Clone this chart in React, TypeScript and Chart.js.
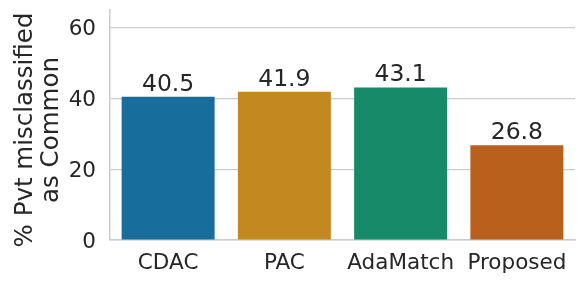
import React, { useEffect, useRef } from "react";
import { Chart, registerables } from "chart.js";

Chart.register(...registerables);

const categories = ["CDAC", "PAC", "AdaMatch", "Proposed"];
const values = [40.5, 41.9, 43.1, 26.8];
const valueLabels = ["40.5", "41.9", "43.1", "26.8"];
const barColors = ["#176e9d", "#c3881f", "#168a69", "#b9601d"];
const yTitleLines = ["% Pvt misclassified", "as Common"];
const yTicks = [0, 20, 40, 60];

const FONT = "'DejaVu Sans', sans-serif";
const TEXT = "#262626";

export default function App() {
  const ref = useRef<HTMLCanvasElement | null>(null);
  useEffect(() => {
    document.body.style.margin = "0";
    const canvas = ref.current!;
    const labelPlugin = {
      id: "labels",
      afterDatasetsDraw(chart: any) {
        const ctx = chart.ctx;
        const meta = chart.getDatasetMeta(0);
        ctx.save();
        ctx.fillStyle = TEXT;
        ctx.font = `23.5px ${FONT}`;
        ctx.textAlign = "center";
        ctx.textBaseline = "alphabetic";
        meta.data.forEach((bar: any, i: number) => {
          ctx.fillText(valueLabels[i], bar.x, bar.y - 6);
        });
        ctx.restore();
      },
      afterDraw(chart: any) {
        const ctx = chart.ctx;
        const a = chart.chartArea;
        ctx.save();
        ctx.fillStyle = TEXT;
        ctx.font = `24.5px ${FONT}`;
        ctx.textAlign = "center";
        ctx.textBaseline = "alphabetic";
        const cy = (a.top + a.bottom) / 2 + 5;
        ctx.translate(0, cy);
        ctx.rotate(-Math.PI / 2);
        ctx.fillText(yTitleLines[0], 0, 32);
        ctx.fillText(yTitleLines[1], 0, 58);
        ctx.restore();
      },
    };
    const chart = new Chart(canvas, {
      type: "bar",
      data: {
        labels: categories,
        datasets: [
          {
            data: values,
            backgroundColor: barColors,
            borderColor: barColors,
            borderWidth: 0,
            categoryPercentage: 0.8,
            barPercentage: 1,
          },
        ],
      },
      options: {
        animation: false,
        responsive: false,
        maintainAspectRatio: false,
        layout: { padding: { top: 10, right: 9, left: 0, bottom: 0 } },
        plugins: { legend: { display: false }, tooltip: { enabled: false } },
        scales: {
          x: {
            grid: { display: false, drawTicks: false },
            border: { display: true, color: "#cccccc", width: 1.5 },
            ticks: { color: TEXT, font: { family: FONT, size: 21.5 }, padding: 11 },
            afterFit: (s: any) => {
              s.height = 47;
              s.paddingLeft = 0;
              s.paddingRight = 0;
            },
          },
          y: {
            min: 0,
            max: 65,
            afterBuildTicks: (s: any) => {
              s.ticks = yTicks.map((v) => ({ value: v }));
            },
            grid: { color: "#cccccc", lineWidth: 1.2, drawTicks: false },
            border: { display: true, color: "#cccccc", width: 1.5 },
            ticks: { color: TEXT, font: { family: FONT, size: 21.5 }, padding: 14, labelOffset: 2 },
            afterFit: (s: any) => {
              s.width = 110;
              s.paddingTop = 0;
              s.paddingBottom = 0;
            },
          },
        },
      },
      plugins: [labelPlugin],
    });
    return () => chart.destroy();
  }, []);
  return (
    <div style={{ width: 584, height: 287 }}>
      <canvas ref={ref} width={584} height={287} style={{ display: "block" }} />
    </div>
  );
}
